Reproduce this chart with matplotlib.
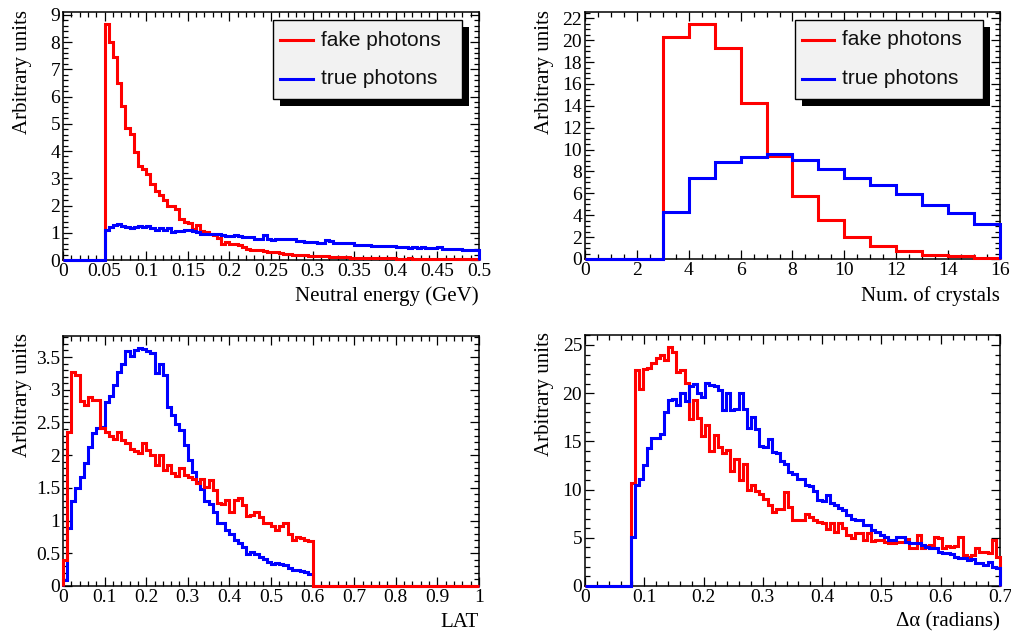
import numpy as np
import matplotlib
matplotlib.use("Agg")
import matplotlib.pyplot as plt
from matplotlib.patches import Rectangle
from matplotlib.lines import Line2D
from matplotlib.ticker import MultipleLocator, FormatStrFormatter

# ---- data ----
# panel 1: neutral energy, 100 bins 0..0.5, first 10 bins empty
energy_fake = [0.0] * 10 + [
    8.67, 7.99, 7.46, 6.49, 5.67, 4.83, 4.62, 3.98, 3.46, 3.34,
    3.16, 2.80, 2.55, 2.37, 2.19, 2.00, 2.00, 1.88, 1.50, 1.40,
    1.37, 1.15, 1.28, 1.06, 1.03, 0.97, 0.91, 0.79, 0.60, 0.66,
    0.60, 0.57, 0.54, 0.48, 0.42, 0.36, 0.36, 0.35, 0.33, 0.31,
    0.30, 0.28, 0.24, 0.22, 0.21, 0.20, 0.19, 0.18, 0.17, 0.16,
    0.15, 0.15, 0.14, 0.13, 0.12, 0.11, 0.11, 0.10, 0.10, 0.09,
    0.09, 0.08, 0.09, 0.08, 0.07, 0.07, 0.07, 0.06, 0.06, 0.06,
    0.05, 0.05, 0.05, 0.06, 0.05, 0.04, 0.04, 0.05, 0.04, 0.04,
    0.04, 0.03, 0.04, 0.03, 0.03, 0.03, 0.03, 0.02, 0.03, 0.02]
energy_true = [0.0] * 10 + [
    1.09, 1.21, 1.28, 1.31, 1.25, 1.21, 1.18, 1.21, 1.25, 1.22,
    1.24, 1.18, 1.09, 1.19, 1.11, 1.18, 1.03, 1.06, 1.08, 1.09,
    1.09, 1.06, 1.01, 0.97, 0.97, 0.95, 0.97, 0.94, 0.91, 0.87,
    0.88, 0.90, 0.88, 0.86, 0.85, 0.86, 0.78, 0.76, 0.90, 0.76,
    0.75, 0.77, 0.77, 0.76, 0.77, 0.76, 0.70, 0.68, 0.67, 0.67,
    0.66, 0.63, 0.63, 0.74, 0.70, 0.61, 0.62, 0.61, 0.63, 0.62,
    0.56, 0.55, 0.54, 0.55, 0.52, 0.51, 0.52, 0.50, 0.51, 0.50,
    0.47, 0.46, 0.47, 0.45, 0.46, 0.45, 0.46, 0.44, 0.45, 0.45,
    0.48, 0.42, 0.41, 0.42, 0.40, 0.41, 0.38, 0.37, 0.36, 0.35]

# panel 2: number of crystals, 16 bins of width 1
ncry_fake = [0, 0, 0, 20.3, 21.5, 19.24, 14.27, 9.42, 5.76, 3.52,
             2.0, 1.15, 0.7, 0.33, 0.24, 0.1]
ncry_true = [0, 0, 0, 4.3, 7.42, 8.85, 9.33, 9.6, 9.09, 8.24,
             7.36, 6.73, 5.97, 4.94, 4.24, 3.21]

# panel 3: LAT, 100 bins 0..1, empty above 0.6
lat_fake = [
    0.40, 2.35, 3.27, 3.22, 2.83, 2.76, 2.89, 2.84, 2.85, 2.42,
    2.35, 2.30, 2.25, 2.35, 2.23, 2.18, 2.10, 2.07, 2.03, 2.18,
    2.08, 2.00, 1.85, 2.01, 1.77, 1.85, 1.73, 1.68, 1.81, 1.69,
    1.67, 1.64, 1.57, 1.63, 1.51, 1.62, 1.46, 1.27, 1.26, 1.31,
    1.13, 1.32, 1.34, 1.24, 1.07, 1.08, 1.13, 1.06, 0.97, 0.96,
    0.91, 0.86, 0.91, 0.96, 0.80, 0.71, 0.75, 0.74, 0.71, 0.69] + [0.0] * 40
lat_true = [
    0.09, 0.88, 1.30, 1.50, 1.66, 1.88, 2.13, 2.34, 2.42, 2.43,
    2.81, 2.91, 3.07, 3.27, 3.40, 3.59, 3.51, 3.60, 3.64, 3.63,
    3.59, 3.56, 3.26, 3.40, 3.22, 2.74, 2.61, 2.48, 2.39, 2.15,
    1.92, 1.74, 1.59, 1.48, 1.30, 1.26, 1.13, 0.97, 0.96, 0.85,
    0.79, 0.70, 0.66, 0.59, 0.49, 0.52, 0.49, 0.45, 0.41, 0.37,
    0.34, 0.35, 0.34, 0.32, 0.27, 0.25, 0.24, 0.23, 0.22, 0.19] + [0.0] * 40

# panel 4: delta alpha, 100 bins 0..0.7, first 11 bins empty
dalpha_fake = [0.0] * 11 + [
    10.65, 22.4, 20.4, 22.5, 22.65, 23.1, 23.6, 24.0, 23.4,
    24.8, 24.3, 22.2, 22.4, 21.1, 17.3, 19.3, 17.4, 15.6, 16.7,
    14.0, 15.7, 14.45, 13.8, 14.1, 11.9, 13.2, 11.0, 12.7, 10.0,
    10.5, 9.9, 9.5, 9.0, 8.4, 7.7, 7.95, 7.95, 9.8, 8.2,
    6.85, 6.85, 6.85, 7.45, 7.2, 6.85, 6.65, 6.5, 5.9, 6.5,
    5.65, 6.5, 6.0, 5.3, 4.95, 5.45, 5.5, 4.8, 5.5, 4.7,
    4.77, 4.8, 4.6, 4.43, 4.43, 4.6, 4.6, 4.9, 3.9, 3.9,
    5.3, 3.9, 4.2, 4.3, 5.1, 5.0, 3.9, 4.1, 4.0, 4.1,
    5.1, 3.2, 3.05, 3.2, 3.9, 3.5, 3.5, 3.4, 4.77, 3.0]
dalpha_true = [0.0] * 11 + [
    5.1, 10.5, 11.1, 12.55, 14.3, 15.4, 15.3, 15.8, 18.1,
    19.3, 19.4, 18.8, 20.0, 19.2, 20.7, 21.0, 20.0, 19.6, 21.1,
    20.85, 20.75, 20.3, 18.3, 20.05, 18.3, 18.4, 20.05, 18.4, 16.35,
    17.5, 16.3, 14.5, 14.4, 15.2, 13.9, 13.8, 13.0, 12.7, 11.85,
    11.65, 11.1, 11.1, 10.45, 10.4, 9.9, 8.9, 8.8, 9.4, 8.6,
    8.4, 8.05, 7.9, 7.35, 7.0, 6.85, 6.85, 6.3, 6.3, 5.8,
    5.6, 5.3, 5.1, 4.8, 4.8, 5.1, 5.1, 4.6, 4.45, 4.45,
    4.45, 4.3, 4.0, 3.9, 3.9, 3.5, 3.4, 3.4, 3.35, 3.05,
    2.9, 2.9, 2.7, 2.75, 2.4, 2.35, 2.2, 2.5, 2.0, 1.85]

RED = "#ff0000"
BLUE = "#0000ff"
SERIF = ["Liberation Serif", "DejaVu Serif"]
SANS = ["Liberation Sans", "DejaVu Sans"]

plt.rcParams["font.family"] = SERIF

fig = plt.figure(figsize=(10.11, 6.32), dpi=100)

panels = [
    # position, edges, fake, true, xlabel, xmajor, xminor, ymajor, yminor, red on top, legend
    ([0.0623, 0.5886, 0.4115, 0.3924], np.linspace(0, 0.5, 101), energy_fake, energy_true,
     "Neutral energy (GeV)", 0.05, 0.01, 1, 0.2, False, True),
    ([0.5786, 0.5902, 0.4105, 0.3908], np.linspace(0, 16, 17), ncry_fake, ncry_true,
     "Num. of crystals", 2, 0.5, 2, 0.5, False, True),
    ([0.0623, 0.0728, 0.4115, 0.3956], np.linspace(0, 1, 101), lat_fake, lat_true,
     "LAT", 0.1, 0.02, 0.5, 0.1, True, False),
    ([0.5786, 0.0728, 0.4105, 0.3972], np.linspace(0, 0.7, 101), dalpha_fake, dalpha_true,
     "Δα (radians)", 0.1, 0.02, 5, 1, False, False),
]

for pos, edges, fake, true, xlabel, xmaj, xmin, ymaj, ymin, red_top, show_leg in panels:
    ax = fig.add_axes(pos)
    zr, zb = (4, 3) if red_top else (3, 4)
    ax.stairs(true, edges, color=BLUE, linewidth=2.2, baseline=0, zorder=zb, clip_on=False)
    ax.stairs(fake, edges, color=RED, linewidth=2.2, baseline=0, zorder=zr, clip_on=False)

    ax.set_xlim(edges[0], edges[-1])
    ax.set_ylim(0, 1.05 * max(max(fake), max(true)))

    ax.xaxis.set_major_locator(MultipleLocator(xmaj))
    ax.xaxis.set_minor_locator(MultipleLocator(xmin))
    ax.yaxis.set_major_locator(MultipleLocator(ymaj))
    ax.yaxis.set_minor_locator(MultipleLocator(ymin))
    ax.xaxis.set_major_formatter(FormatStrFormatter("%g"))
    ax.yaxis.set_major_formatter(FormatStrFormatter("%g"))
    ax.tick_params(which="both", direction="in", top=True, right=True, width=0.9)
    ax.tick_params(which="major", length=6.5, labelsize=14, pad=2)
    ax.tick_params(which="minor", length=3.3)
    for s in ax.spines.values():
        s.set_linewidth(1.1)

    ax.set_xlabel(xlabel, fontsize=15, loc="right", labelpad=5)
    ax.set_ylabel("Arbitrary units", fontsize=15, loc="top")
    ax.yaxis.set_label_coords(-0.075, 1.01)

    if show_leg:
        x0, y0, w, h = 0.505, 0.649, 0.454, 0.319
        ax.add_patch(Rectangle((x0 + 0.017, y0 - 0.028), w, h, transform=ax.transAxes,
                               facecolor="black", edgecolor="none", clip_on=False, zorder=9))
        ax.add_patch(Rectangle((x0, y0), w, h, transform=ax.transAxes,
                               facecolor="#f2f2f2", edgecolor="black", linewidth=1.0,
                               clip_on=False, zorder=10))
        for yy, col, lab in [(0.887, RED, "fake photons"), (0.73, BLUE, "true photons")]:
            ax.add_line(Line2D([0.522, 0.601], [yy, yy], transform=ax.transAxes,
                               color=col, linewidth=2.2, zorder=11, clip_on=False))
            ax.text(0.62, yy, lab, transform=ax.transAxes, family=SANS, fontsize=15,
                    va="center", ha="left", color="#111111", zorder=11)

fig.savefig("out.png", dpi=100)
